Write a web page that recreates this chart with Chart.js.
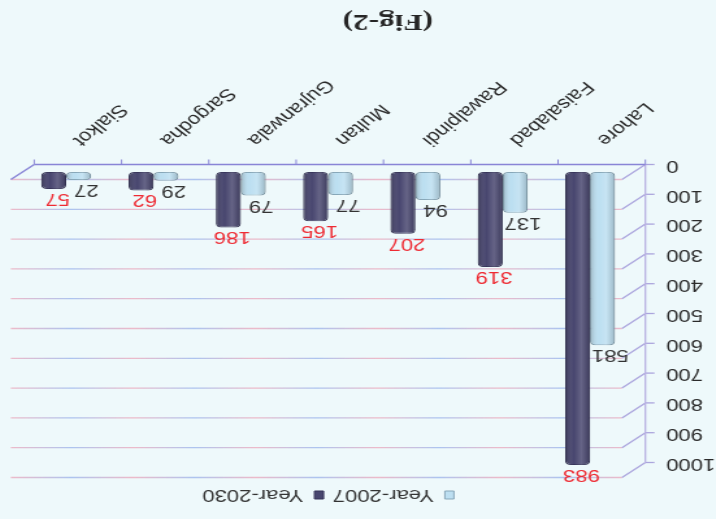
<!DOCTYPE html>
<html>
<head>
<meta charset="utf-8">
<script src="https://cdn.jsdelivr.net/npm/chart.js@4/dist/chart.umd.min.js"></script>
<style>
  html, body { margin: 0; padding: 0; width: 716px; height: 519px; overflow: hidden; background: #eef9fb; }
  /* the figure is printed turned half a turn and slightly widened */
  #wrap { position: absolute; left: 0; top: 0; width: 551px; height: 519px;
          transform-origin: 0 0; transform: matrix(-1.2995, 0, 0, -1, 716, 519); }
</style>
</head>
<body>
<div id="wrap"><canvas id="chart"></canvas></div>
<script>
// Population of the main cities (in ten thousands)
const categories = ['Lahore', 'Faisalabad', 'Rawalpindi', 'Multan', 'Gujranwala', 'Sargodha', 'Sialkot'];
const year2007 = [581, 137, 94, 77, 79, 29, 27];
const year2030 = [983, 319, 207, 165, 186, 62, 57];
const valueTicks = [0, 100, 200, 300, 400, 500, 600, 700, 800, 900, 1000];
const seriesNames = ['Year-2007', 'Year-2030'];
const figureCaption = '(Fig-2)';

Chart.defaults.font.family = '"Liberation Sans", Arial, sans-serif';
Chart.defaults.font.size = 17;

// pseudo-3D depth of the plot box
const DX = 9, DY = 7.5;

function seg(ctx, x1, y1, x2, y2) {
  ctx.beginPath(); ctx.moveTo(x1, y1); ctx.lineTo(x2, y2); ctx.stroke();
}

// back wall grid, front value axis and floor edges
const wallPlugin = {
  id: 'walls',
  beforeDatasetsDraw(chart) {
    const { ctx, chartArea: a, scales: { x, y } } = chart;
    ctx.save();
    const g = ctx.createLinearGradient(a.left + DX, 0, a.right + DX, 0);
    const stops = ['rgba(236,160,180,0.7)', 'rgba(150,178,236,0.75)'];
    for (let i = 0; i <= 10; i++) g.addColorStop(i / 10, stops[i % 2]);
    ctx.lineWidth = 1.3;
    valueTicks.forEach(v => {
      const py = y.getPixelForValue(v);
      ctx.strokeStyle = g;
      seg(ctx, a.left + DX, py - DY, a.right + DX, py - DY);
      ctx.strokeStyle = '#aba5dd';
      seg(ctx, a.left - DX, py + DY, a.left + DX, py - DY);
      seg(ctx, a.left - DX - 7, py + DY, a.left - DX, py + DY);
    });
    const y0 = y.getPixelForValue(0), y1 = y.getPixelForValue(valueTicks[valueTicks.length - 1]);
    ctx.strokeStyle = '#b9b2e2';
    seg(ctx, a.left - DX, y0 + DY, a.left - DX, y1 + DY);
    ctx.strokeStyle = '#8985d6';
    ctx.lineWidth = 1.5;
    seg(ctx, a.left - DX, y0 + DY, a.right - DX, y0 + DY);
    seg(ctx, a.right - DX, y0 + DY, a.right + DX, y0 - DY);
    const step = x.width / categories.length;
    ctx.lineWidth = 1;
    for (let i = 0; i <= categories.length; i++) {
      const bx = a.left + i * step - DX;
      seg(ctx, bx, y0 + DY, bx, y0 + DY + 5);
    }
    ctx.restore();
  }
};

// round shading on the columns and value labels at their ends
const barLabelPlugin = {
  id: 'barLabels',
  afterDatasetsDraw(chart) {
    const { ctx } = chart;
    ctx.save();
    chart.data.datasets.forEach((ds, di) => {
      chart.getDatasetMeta(di).data.forEach(bar => {
        const left = bar.x - bar.width / 2;
        const g = ctx.createLinearGradient(left, 0, left + bar.width, 0);
        g.addColorStop(0, 'rgba(0,0,0,0.18)');
        g.addColorStop(0.35, 'rgba(255,255,255,0.16)');
        g.addColorStop(0.65, 'rgba(255,255,255,0)');
        g.addColorStop(1, 'rgba(0,0,0,0.22)');
        ctx.fillStyle = g;
        ctx.beginPath();
        ctx.roundRect(left, bar.y, bar.width, bar.base - bar.y, 4);
        ctx.fill();
      });
    });
    ctx.font = '17px "Liberation Sans", Arial, sans-serif';
    ctx.textAlign = 'center';
    ctx.textBaseline = 'alphabetic';
    chart.data.datasets.forEach((ds, di) => {
      ctx.fillStyle = di === 0 ? '#333333' : '#ee2b33';
      const shift = di === 0 ? -6 : -3;
      chart.getDatasetMeta(di).data.forEach((bar, i) => {
        ctx.fillText(String(ds.data[i]), bar.x + shift, bar.y - 5);
      });
    });
    ctx.restore();
  }
};

// figure caption under the plot
const captionPlugin = {
  id: 'caption',
  afterDraw(chart) {
    const { ctx } = chart;
    ctx.save();
    ctx.font = 'bold 24px "Liberation Serif", "Times New Roman", serif';
    ctx.fillStyle = '#262626';
    ctx.textAlign = 'center';
    ctx.textBaseline = 'middle';
    ctx.fillText(figureCaption, chart.width / 2 - 23, chart.height - 21);
    ctx.restore();
  }
};

// small gap between the legend and the plot box
const legendGapPlugin = {
  id: 'legendGap',
  beforeInit(chart) {
    Chart.layouts.addBox(chart, {
      position: 'top', weight: 500, fullSize: true,
      options: { stackWeight: 1 },
      width: 0, height: 0, top: 0, left: 0, right: 0, bottom: 0,
      isHorizontal() { return true; },
      update(maxWidth) { this.width = maxWidth; this.height = 6.5; },
      draw() {}
    });
  }
};

new Chart(document.getElementById('chart'), {
  type: 'bar',
  data: {
    labels: categories,
    datasets: [
      { label: seriesNames[0], data: year2007, backgroundColor: '#bcdff1', borderColor: '#86a7b9',
        borderWidth: 1, borderSkipped: false, borderRadius: 4, categoryPercentage: 0.57, barPercentage: 1 },
      { label: seriesNames[1], data: year2030, backgroundColor: '#48466f', borderColor: '#36345a',
        borderWidth: 1, borderSkipped: false, borderRadius: 4, categoryPercentage: 0.57, barPercentage: 1 }
    ]
  },
  options: {
    responsive: true,
    maintainAspectRatio: false,
    animation: false,
    layout: { padding: { top: 8.5, right: 17.4, bottom: 0, left: 0 } },
    plugins: {
      legend: {
        position: 'top', fullSize: false,
        labels: { boxWidth: 7, boxHeight: 8, padding: 7, color: '#333333',
                  font: { size: 17 } }
      },
      title: { display: false },
      tooltip: { enabled: false }
    },
    scales: {
      x: {
        grid: { display: false, drawTicks: false },
        border: { display: false },
        ticks: { autoSkip: false, minRotation: 45, maxRotation: 45, padding: 22, labelOffset: -8,
                 color: '#2b2b2b', font: { size: 17 } },
        afterFit(s) { s.height = 172; }
      },
      y: {
        min: 0, max: 1000,
        grid: { display: false, drawTicks: false },
        border: { display: false },
        ticks: { stepSize: 100, padding: 25, labelOffset: 6.5, color: '#2b2b2b', font: { size: 17 },
                 callback: v => String(v) },
        afterFit(s) { s.width = 63.3; }
      }
    }
  },
  plugins: [wallPlugin, barLabelPlugin, captionPlugin, legendGapPlugin]
});
</script>
</body>
</html>
